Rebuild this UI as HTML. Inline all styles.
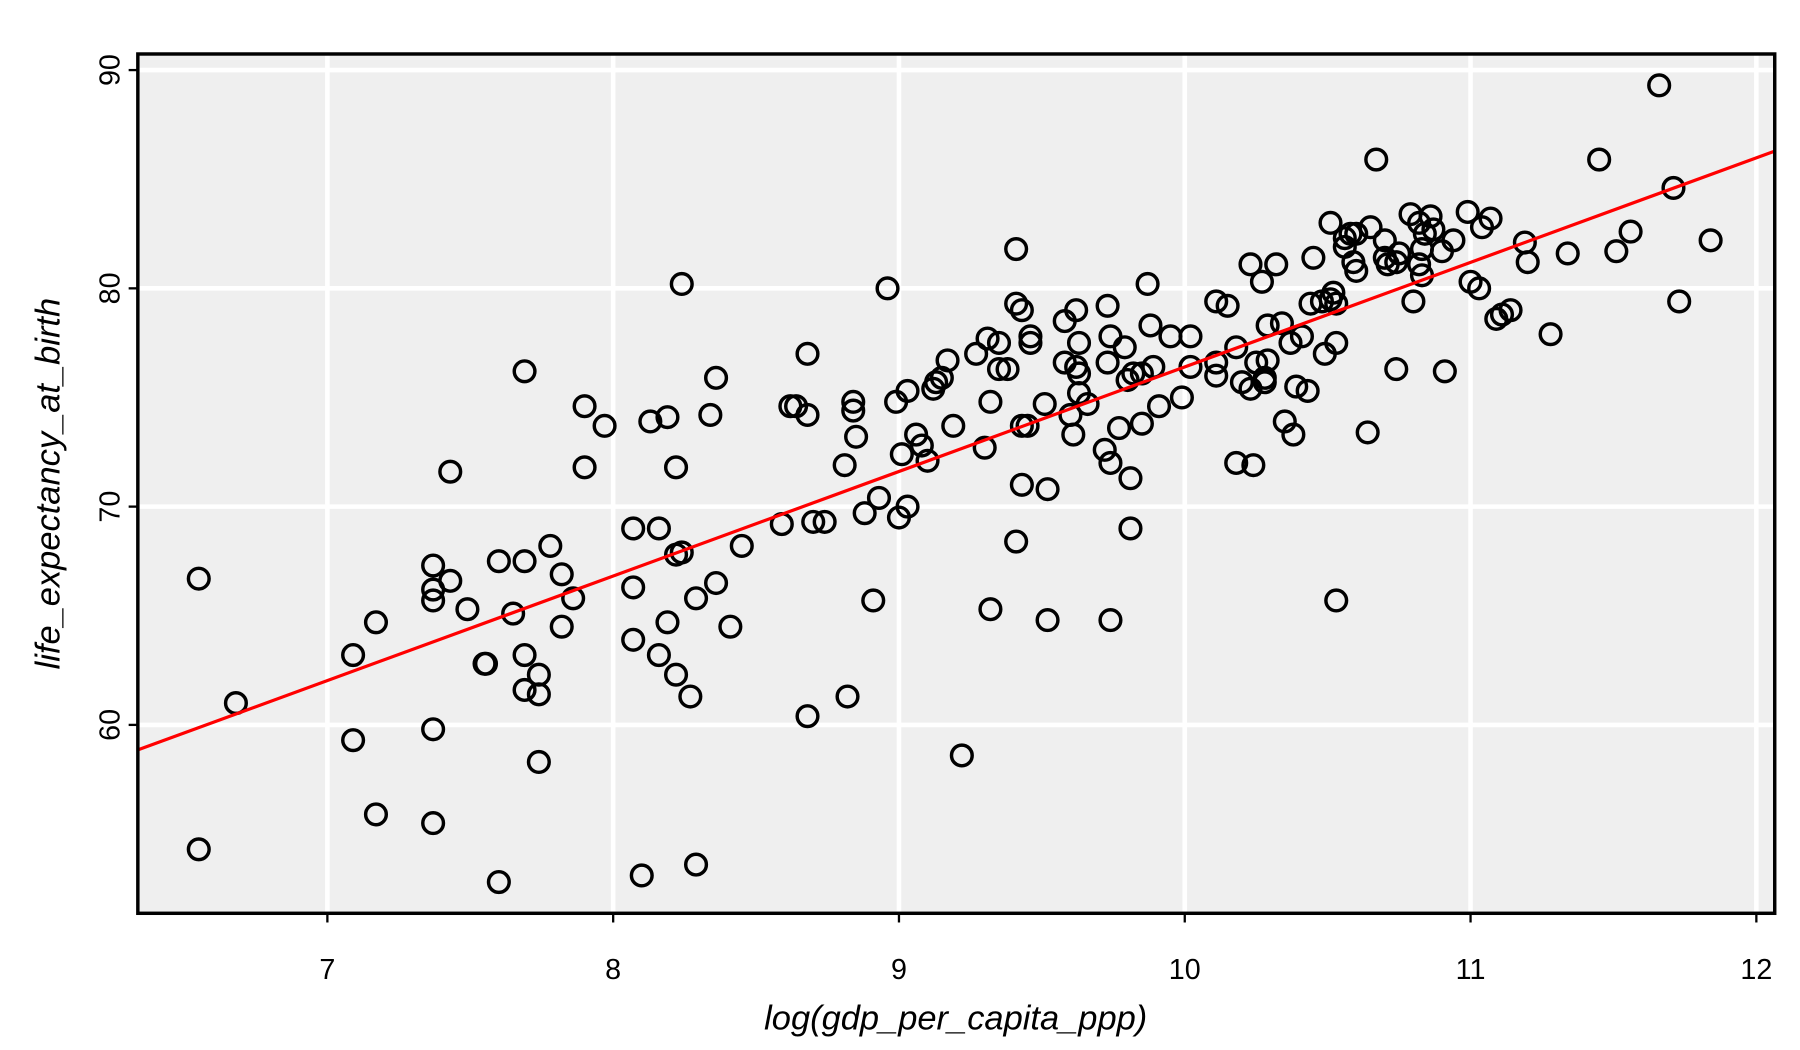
<!DOCTYPE html>
<html><head><meta charset="utf-8"><style>
html,body{margin:0;padding:0;background:#fff;}
svg{display:block;}
text{font-family:"Liberation Sans","DejaVu Sans",sans-serif;fill:#000;}
</style></head><body>
<svg id="chart" width="1800" height="1050" viewBox="0 0 1567 914" preserveAspectRatio="none" xmlns="http://www.w3.org/2000/svg">
<rect x="120" y="47" width="1425" height="748" fill="#efefef"/>
<g id="grid"></g>
<g id="points"></g>
<g id="fit"></g>
<rect x="120" y="47" width="1425" height="748" fill="none" stroke="#000" stroke-width="3"/>
<g id="axes"></g>
<text x="832" y="896" text-anchor="middle" font-size="30" font-style="italic">log(gdp_per_capita_ppp)</text>
<text transform="translate(52,421) rotate(-90)" text-anchor="middle" font-size="30" font-style="italic">life_expectancy_at_birth</text>
</svg>
<script>
const xTicks=[7,8,9,10,11,12];
const yTicks=[60,70,80,90];
const fitIntercept=28.5;
const fitSlope=4.79;
const xVals=[6.55,6.55,6.68,7.09,7.09,7.17,7.17,7.37,7.37,7.37,7.37,7.37,7.43,7.43,7.49,7.55,7.555,7.60,7.60,7.65,7.69,7.69,7.69,7.69,7.74,7.74,7.74,7.78,7.82,7.82,7.86,7.90,7.90,7.97,8.07,8.07,8.07,8.10,8.13,8.16,8.16,8.19,8.19,8.22,8.22,8.22,8.24,8.24,8.27,8.29,8.29,8.34,8.36,8.36,8.41,8.45,8.59,8.62,8.64,8.68,8.68,8.68,8.70,8.74,8.81,8.82,8.84,8.84,8.85,8.88,8.91,8.93,8.96,8.99,9.00,9.01,9.03,9.03,9.06,9.08,9.10,9.12,9.13,9.15,9.17,9.19,9.22,9.27,9.30,9.31,9.32,9.32,9.35,9.35,9.38,9.41,9.41,9.41,9.43,9.43,9.43,9.45,9.46,9.46,9.51,9.52,9.52,9.58,9.58,9.60,9.61,9.62,9.62,9.63,9.63,9.63,9.66,9.73,9.72,9.73,9.74,9.74,9.74,9.77,9.79,9.80,9.81,9.81,9.82,9.85,9.85,9.87,9.88,9.89,9.91,9.95,9.99,10.02,10.02,10.11,10.11,10.11,10.15,10.18,10.18,10.20,10.23,10.23,10.24,10.25,10.27,10.28,10.28,10.29,10.29,10.32,10.34,10.35,10.37,10.38,10.39,10.41,10.43,10.44,10.45,10.48,10.49,10.51,10.51,10.52,10.53,10.53,10.53,10.56,10.56,10.58,10.59,10.60,10.60,10.64,10.65,10.67,10.70,10.70,10.71,10.74,10.74,10.75,10.79,10.80,10.82,10.82,10.83,10.83,10.84,10.86,10.87,10.90,10.91,10.94,10.99,11.00,11.03,11.04,11.07,11.09,11.11,11.14,11.19,11.20,11.28,11.34,11.45,11.51,11.56,11.66,11.71,11.73,11.84];
const yVals=[66.7,54.3,61.0,63.2,59.3,64.7,55.9,67.3,66.2,65.7,59.8,55.5,71.6,66.6,65.3,62.8,62.8,67.5,52.8,65.1,76.2,67.5,63.2,61.6,62.3,61.4,58.3,68.2,66.9,64.5,65.8,74.6,71.8,73.7,69.0,66.3,63.9,53.1,73.9,69.0,63.2,74.1,64.7,71.8,67.8,62.3,80.2,67.9,61.3,65.8,53.6,74.2,75.9,66.5,64.5,68.2,69.2,74.6,74.6,77.0,74.2,60.4,69.3,69.3,71.9,61.3,74.8,74.4,73.2,69.7,65.7,70.4,80.0,74.8,69.5,72.4,75.3,70.0,73.3,72.8,72.1,75.4,75.7,75.9,76.7,73.7,58.6,77.0,72.7,77.7,74.8,65.3,77.5,76.3,76.3,81.8,79.3,68.4,73.7,79.0,71.0,73.7,77.8,77.5,74.7,64.8,70.8,78.5,76.6,74.2,73.3,79.0,76.4,76.1,77.5,75.2,74.7,76.6,72.6,79.2,77.8,72.0,64.8,73.6,77.3,75.8,69.0,71.3,76.1,73.8,76.1,80.2,78.3,76.4,74.6,77.8,75.0,77.8,76.4,79.4,76.6,76.0,79.2,72.0,77.3,75.7,81.1,75.4,71.9,76.6,80.3,75.9,75.7,78.3,76.7,81.1,78.4,73.9,77.5,73.3,75.5,77.8,75.3,79.3,81.4,79.4,77.0,83.0,79.5,79.8,79.3,77.5,65.7,82.3,81.9,82.5,81.2,80.8,82.5,73.4,82.8,85.9,81.4,82.2,81.1,76.3,81.2,81.6,83.4,79.4,83.0,81.1,80.6,81.8,82.5,83.3,82.7,81.7,76.2,82.2,83.5,80.3,80.0,82.8,83.2,78.6,78.8,79.0,82.1,81.2,77.9,81.6,85.9,81.7,82.6,89.3,84.6,79.4,82.2];

const NS="http://www.w3.org/2000/svg";
const X0=120,X1=1545,Y0=47,Y1=795;
const xMin=6+(X0-36.2)/248.8, xMax=6+(X1-36.2)/248.8;
function sx(v){return 36.2+(v-6)*248.8;}
function sy(v){return 631-(v-60)*19;}
function mk(tag,attrs,parent){const e=document.createElementNS(NS,tag);for(const k in attrs)e.setAttribute(k,attrs[k]);parent.appendChild(e);return e;}
const grid=document.getElementById('grid'),axes=document.getElementById('axes'),pts=document.getElementById('points'),fit=document.getElementById('fit');
xTicks.forEach(t=>{
  const g=mk('line',{x1:sx(t),x2:sx(t),y1:Y0,y2:Y1,stroke:'#fff','stroke-width':4},grid);
  
  
  const tk=mk('line',{x1:sx(t),x2:sx(t),y1:Y1,y2:Y1+8,stroke:'#000','stroke-width':2},axes);
  
  
  const lb=mk('text',{x:sx(t),y:852,'text-anchor':'middle','font-size':25},axes);
  lb.textContent=t;
  
  
});
yTicks.forEach(t=>{
  const g=mk('line',{x1:X0,x2:X1,y1:sy(t),y2:sy(t),stroke:'#fff','stroke-width':4},grid);
  
  
  const tk=mk('line',{x1:X0-8,x2:X0,y1:sy(t),y2:sy(t),stroke:'#000','stroke-width':2},axes);
  
  
  const lb=mk('text',{transform:'translate(104,'+sy(t)+') rotate(-90)','text-anchor':'middle','font-size':25},axes);
  lb.textContent=t;
  
  
});
xVals.forEach((xv,i)=>{
  const c=mk('circle',{cx:sx(xv),cy:sy(yVals[i]),r:9,fill:'none',stroke:'#000','stroke-width':3},pts);
  
  
});
const fl=mk('line',{x1:X0,y1:sy(fitIntercept+fitSlope*xMin),x2:X1,y2:sy(fitIntercept+fitSlope*xMax),stroke:'#ff0000','stroke-width':2.8},fit);


</script>
</body></html>
